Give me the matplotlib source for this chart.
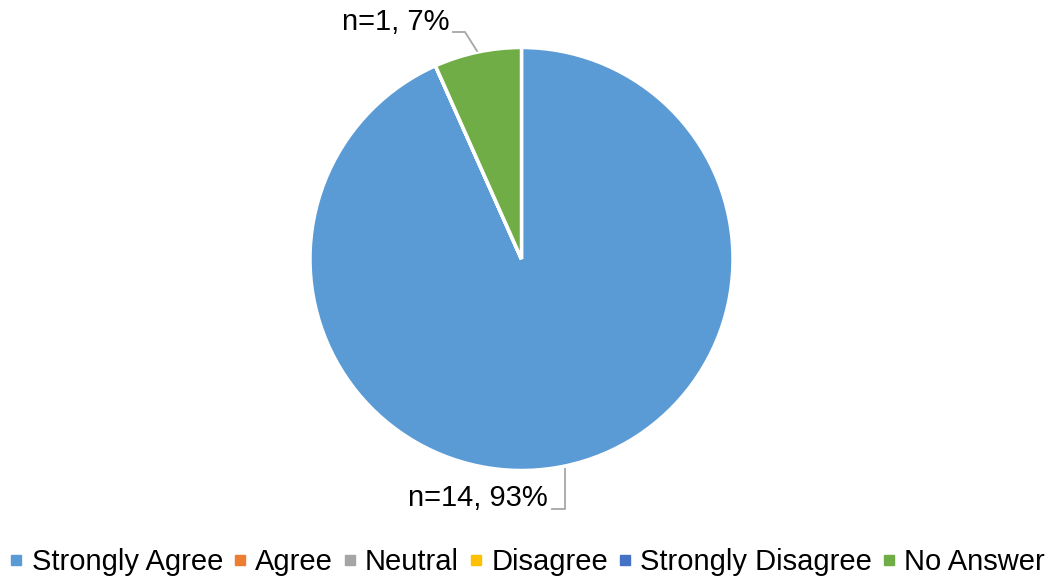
import matplotlib
matplotlib.use("Agg")
import matplotlib.pyplot as plt
from matplotlib.lines import Line2D

plt.rcParams['font.family'] = ['Liberation Sans', 'DejaVu Sans']

# data
categories = ["Strongly Agree", "Agree", "Neutral", "Disagree", "Strongly Disagree", "No Answer"]
counts = [14, 0, 0, 0, 0, 1]
colors = ["#5B9BD5", "#ED7D31", "#A5A5A5", "#FFC000", "#4472C4", "#70AD47"]

W, H = 1052, 582
fig = plt.figure(figsize=(W / 100, H / 100), dpi=100)

# pie centre / radius in pixels
cx, cy, r = 521.5, 259, 211.5
ax = fig.add_axes([(cx - r) / W, (H - cy - r) / H, 2 * r / W, 2 * r / H])

total = sum(counts)
wedges, _ = ax.pie(counts, colors=colors, startangle=90, counterclock=False,
                   radius=1, wedgeprops=dict(edgecolor="white", linewidth=2.5))
ax.set_xlim(-1, 1)
ax.set_ylim(-1, 1)
ax.set_aspect("equal")
ax.axis("off")


def px(x, y):
    # pixel -> data coords
    return (x - cx) / r, (cy - y) / r


lc = "#A6A6A6"
fs = 21

# label for No Answer
i = categories.index("No Answer")
txt = "n=%d, %d%%" % (counts[i], round(100 * counts[i] / total))
ax.text(*px(449, 22), txt, ha="right", va="center", fontsize=fs)
p = [px(453, 32), px(465, 32), px(477, 51)]
ax.plot([q[0] for q in p], [q[1] for q in p], color=lc, lw=1.3, clip_on=False)

# label for Strongly Agree
i = categories.index("Strongly Agree")
txt = "n=%d, %d%%" % (counts[i], round(100 * counts[i] / total))
ax.text(*px(548, 498), txt, ha="right", va="center", fontsize=fs)
p = [px(552, 509), px(565, 509), px(565, 469)]
ax.plot([q[0] for q in p], [q[1] for q in p], color=lc, lw=1.3, clip_on=False)

handles = [Line2D([], [], marker="s", linestyle="", markersize=7.5,
                  markerfacecolor=c, markeredgecolor=c) for c in colors]
fig.legend(handles, categories, loc="center", bbox_to_anchor=(528 / W, (H - 562) / H),
           ncol=6, frameon=False, fontsize=fs, handlelength=0.35, handletextpad=0.35,
           columnspacing=0.4, borderpad=0)

fig.savefig("out.png", dpi=100)
